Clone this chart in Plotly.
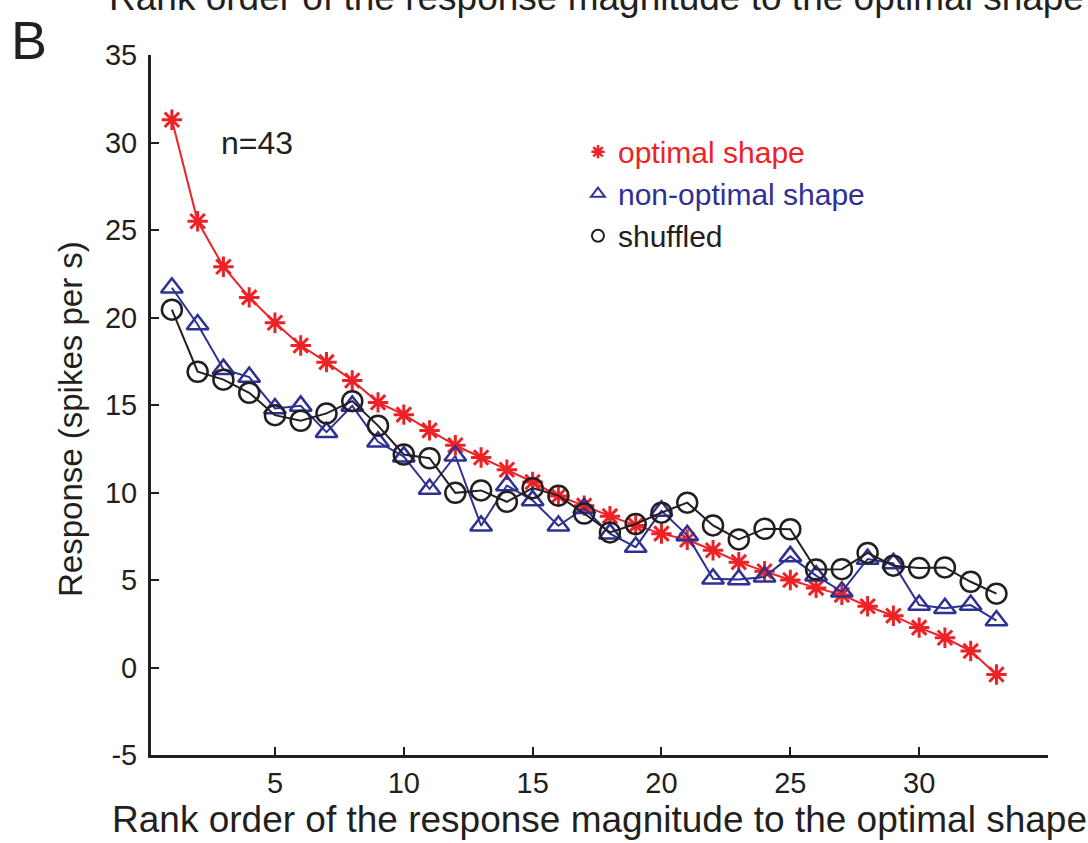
import plotly.graph_objects as go

rank = list(range(1, 34))
optimal = [31.3, 25.5, 22.9, 21.15, 19.7, 18.4, 17.45, 16.4, 15.15, 14.45, 13.55,
           12.7, 12.0, 11.3, 10.6, 9.8, 9.25, 8.65, 8.12, 7.65, 7.3, 6.7, 6.02,
           5.5, 5.0, 4.55, 4.15, 3.5, 2.96, 2.28, 1.7, 0.94, -0.4]
non_optimal = [21.7, 19.6, 17.05, 16.6, 14.8, 14.95, 13.45, 14.95, 12.9, 12.05, 10.2,
               12.1, 8.1, 10.4, 9.55, 8.1, 9.1, 7.65, 6.88, 8.95, 7.55, 5.07,
               5.03, 5.18, 6.35, 5.25, 4.33, 6.2, 5.95, 3.57, 3.38, 3.57, 2.68]
shuffled = [20.45, 16.9, 16.45, 15.7, 14.42, 14.1, 14.52, 15.22, 13.82, 12.17, 11.96,
            9.98, 10.12, 9.47, 10.25, 9.82, 8.8, 7.72, 8.2, 8.85, 9.42, 8.12,
            7.32, 7.93, 7.9, 5.6, 5.62, 6.55, 5.82, 5.68, 5.72, 4.9, 4.22]

x_ticks = [5, 10, 15, 20, 25, 30, 35]
x_tick_text = ["5", "10", "15", "20", "25", "30", ""]
y_ticks = [-5, 0, 5, 10, 15, 20, 25, 30, 35]
y_tick_text = ["-5", "0", "5", "10", "15", "20", "25", "30", "35"]

RED = "rgb(237,34,38)"
BLUE = "rgb(46,49,146)"
BLACK = "rgb(35,31,32)"
FONT = "Liberation Sans, Arial, sans-serif"
XTITLE = "Rank order of the response magnitude to the optimal shape"

fig = go.Figure()

fig.add_trace(go.Scatter(x=rank, y=optimal, mode="lines+markers", showlegend=False,
                         line=dict(color=RED, width=2),
                         marker=dict(symbol="asterisk-open", size=17, color=RED,
                                     line=dict(color=RED, width=3))))
fig.add_trace(go.Scatter(x=rank, y=non_optimal, mode="lines+markers", showlegend=False,
                         line=dict(color=BLUE, width=2),
                         marker=dict(symbol="triangle-up-open", size=19, color=BLUE,
                                     line=dict(color=BLUE, width=2.5))))
fig.add_trace(go.Scatter(x=rank, y=shuffled, mode="lines+markers", showlegend=False,
                         line=dict(color=BLACK, width=2),
                         marker=dict(symbol="circle-open", size=20, color=BLACK,
                                     line=dict(color=BLACK, width=2.5))))

# legend entries
fig.add_trace(go.Scatter(x=[None], y=[None], mode="markers",
                         name='<span style="color:rgb(237,34,38)">optimal shape</span>',
                         marker=dict(symbol="asterisk-open", size=11, color=RED,
                                     line=dict(color=RED, width=2.5))))
fig.add_trace(go.Scatter(x=[None], y=[None], mode="markers",
                         name='<span style="color:rgb(46,49,146)">non-optimal shape</span>',
                         marker=dict(symbol="triangle-up-open", size=12, color=BLUE,
                                     line=dict(color=BLUE, width=2))))
fig.add_trace(go.Scatter(x=[None], y=[None], mode="markers",
                         name='<span style="color:rgb(35,31,32)">shuffled</span>',
                         marker=dict(symbol="circle-open", size=12, color=BLACK,
                                     line=dict(color=BLACK, width=2))))

fig.update_layout(
    width=1088, height=843,
    margin=dict(l=151, r=40, t=55, b=86),
    paper_bgcolor="white", plot_bgcolor="white",
    font=dict(family=FONT, color=BLACK, size=29),
    legend=dict(x=0.476, y=0.899, xanchor="left", yanchor="top",
                bgcolor="rgba(0,0,0,0)", font=dict(size=30), tracegroupgap=0,
                itemwidth=30),
    xaxis=dict(range=[0.19, 35], tickvals=x_ticks, ticktext=x_tick_text,
               showline=True, linecolor=BLACK, linewidth=3, mirror=False,
               ticks="inside", ticklen=8, tickwidth=2, tickcolor=BLACK,
               showgrid=False, zeroline=False,
               tickfont=dict(size=29, family=FONT),
               title=dict(text=XTITLE, font=dict(size=37), standoff=6)),
    yaxis=dict(range=[-5, 35], tickvals=y_ticks, ticktext=y_tick_text,
               showline=True, linecolor=BLACK, linewidth=3, mirror=False,
               ticks="inside", ticklen=8, tickwidth=2, tickcolor=BLACK,
               showgrid=False, zeroline=False, ticklabelstandoff=5,
               tickfont=dict(size=29, family=FONT)),
    annotations=[
        dict(text="B", xref="paper", yref="paper", x=-0.136, y=1.0214,
             xanchor="center", yanchor="middle", showarrow=False,
             font=dict(size=54, family=FONT, color=BLACK)),
        dict(text="n=43", xref="x", yref="y", x=4.3, y=30.0,
             xanchor="center", yanchor="middle", showarrow=False,
             font=dict(size=32, family=FONT, color=BLACK)),
        dict(text="Response (spikes per s)", xref="paper", yref="paper",
             x=-0.0903, y=0.48, textangle=-90,
             xanchor="center", yanchor="middle", showarrow=False,
             font=dict(size=33, family=FONT, color=BLACK)),
        dict(text=XTITLE, xref="paper", yref="paper", x=0.497, y=1.0499,
             xanchor="center", yanchor="bottom", showarrow=False,
             font=dict(size=37, family=FONT, color=BLACK)),
    ],
)

fig.write_html("out.html")
